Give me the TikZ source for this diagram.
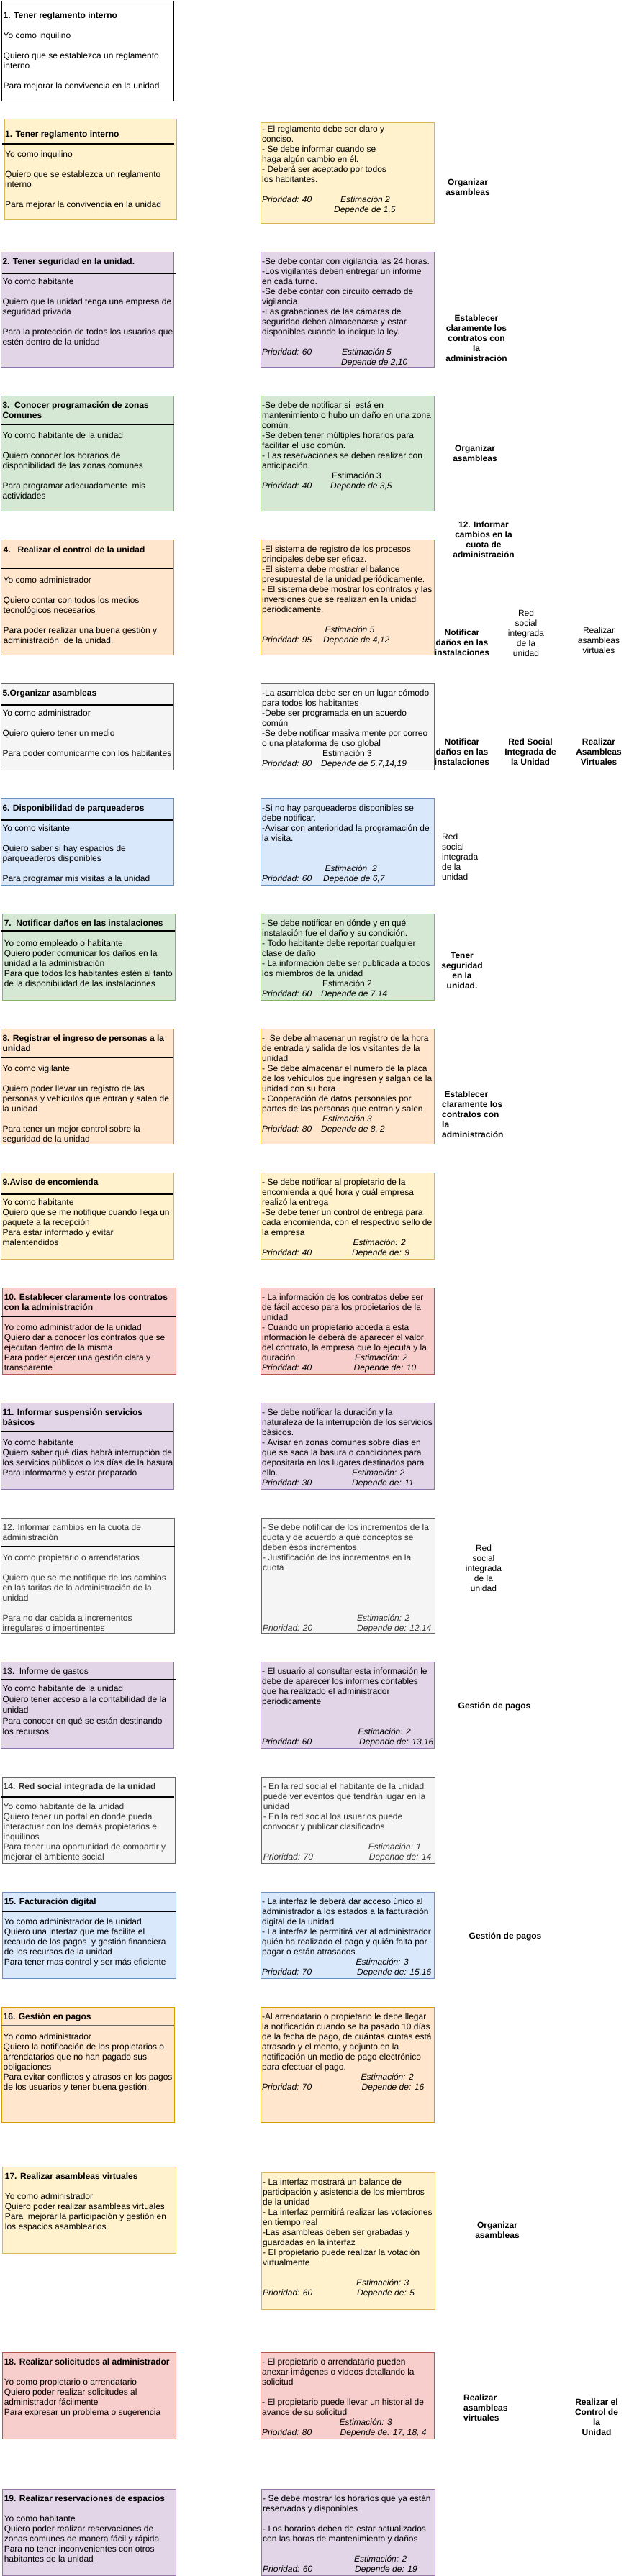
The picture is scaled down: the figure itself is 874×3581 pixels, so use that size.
\documentclass[tikz,border=0pt]{standalone}
\usepackage{fontspec}
\setmainfont{Liberation Sans}
\definecolor{amaF}{HTML}{FFF2CC}\definecolor{amaB}{HTML}{D6B656}
\definecolor{morF}{HTML}{E1D5E7}\definecolor{morB}{HTML}{9673A6}
\definecolor{verF}{HTML}{D5E8D4}\definecolor{verB}{HTML}{82B366}
\definecolor{narF}{HTML}{FFE6CC}\definecolor{narB}{HTML}{D79B00}
\definecolor{griF}{HTML}{F5F5F5}\definecolor{griB}{HTML}{666666}
\definecolor{azuF}{HTML}{DAE8FC}\definecolor{azuB}{HTML}{6C8EBF}
\definecolor{rojF}{HTML}{F8CECC}\definecolor{rojB}{HTML}{B85450}
\definecolor{txtgris}{HTML}{333333}
\newcommand\cardfont{\fontsize{12}{14}\selectfont}
\newcommand\putat[2]{\makebox[0pt][l]{\hspace*{#1pt}#2}}
\tikzset{
  card/.style={anchor=north west, draw, line width=1pt, inner sep=0pt, minimum width=240pt},
  ama/.style={fill=amaF, draw=amaB}, mor/.style={fill=morF, draw=morB},
  ver/.style={fill=verF, draw=verB}, nar/.style={fill=narF, draw=narB},
  gri/.style={fill=griF, draw=griB}, azu/.style={fill=azuF, draw=azuB},
  roj/.style={fill=rojF, draw=rojB},
  body/.style={anchor=north west, align=left, inner sep=0pt, font=\cardfont, execute at begin node=\strut},
  tag/.style={anchor=north, align=center, inner sep=0pt, font=\cardfont\bfseries, execute at begin node=\strut},
  tagn/.style={tag, font=\cardfont},
  divline/.style={line width=1.2pt}
}
\begin{document}
\begin{tikzpicture}[x=1pt,y=-1pt]
\useasboundingbox (0,0) rectangle (874,3581);
% ejemplo
\node[card, draw=black, fill=white, line width=1.3pt, minimum width=239pt, minimum height=139pt] (h0) at (2,0.7) {};
\node[body] (h0t) at (4.5,16.5) {\textbf{1. Tener reglamento interno}\\[14pt] Yo como inquilino\\[14pt] Quiero que se establezca un reglamento\\ interno\\[14pt] Para mejorar la convivencia en la unidad};

% historia 1
\node[card, ama, minimum width=239pt, minimum height=140pt] (h1) at (6,165) {};
\draw[divline] (3,200) -- (242,200);
\node[body] (h1t) at (7,181.5) {\textbf{1. Tener reglamento interno}\\[14pt] Yo como inquilino\\[14pt] Quiero que se establezca un reglamento\\ interno\\[14pt] Para mejorar la convivencia en la unidad};
\node[card, ama, minimum width=241pt, minimum height=140pt] (c1) at (362,170) {};
\node[body] (c1t) at (364,174.5) {- El reglamento debe ser claro y\\ conciso.\\ - Se debe informar cuando se\\ haga algún cambio en él.\\ - Deberá ser aceptado por todos\\ los habitantes.\\[14pt] \putat{0}{\textit{Prioridad: 40}}\putat{109}{\textit{Estimación 2}}\\ \putat{100}{\textit{Depende de 1,5}}};
\node[tag] (g1) at (650,248.5) {Organizar\\ asambleas};

% historia 2
\node[card, mor, minimum height=160pt] (h2) at (1,350) {};
\draw[divline] (3,380) -- (245,380);
\node[body] (h2t) at (3.3,358.5) {\textbf{2. Tener seguridad en la unidad.}\\[14pt] Yo como habitante\\[14pt] Quiero que la unidad tenga una empresa de\\ seguridad privada\\[14pt] Para la protección de todos los usuarios que\\ estén dentro de la unidad};
\node[card, mor, minimum width=241pt, minimum height=160pt] (c2) at (362,350) {};
\node[body] (c2t) at (364,358.5) {-Se debe contar con vigilancia las 24 horas.\\ -Los vigilantes deben entregar un informe\\ en cada turno.\\ -Se debe contar con circuito cerrado de\\ vigilancia.\\ -Las grabaciones de las cámaras de\\ seguridad deben almacenarse y estar\\ disponibles cuando lo indique la ley.\\[14pt] \putat{0}{\textit{Prioridad: 60}}\putat{111}{\textit{Estimación 5}}\\ \putat{110}{\textit{Depende de 2,10}}};
\node[tag] (g2) at (662,437.5) {Establecer\\ claramente los\\ contratos con\\ la\\ administración};

% historia 3
\node[card, ver, minimum height=160pt] (h3) at (1,550) {};
\draw[divline] (1,590) -- (242,590);
\node[body] (h3t) at (3.3,558.5) {\textbf{3.\ \ Conocer programación de zonas}\\ \textbf{Comunes}\\[14pt] Yo como habitante de la unidad\\[14pt] Quiero conocer los horarios de\\ disponibilidad de las zonas comunes\\[14pt] Para programar adecuadamente\ \ mis\\ actividades};
\node[card, ver, minimum width=241pt, minimum height=160pt] (c3) at (362,550) {};
\node[body] (c3t) at (364,558.5) {-Se debe de notificar si\ \ está en\\ mantenimiento o hubo un daño en una zona\\ común.\\ -Se deben tener múltiples horarios para\\ facilitar el uso común.\\ - Las reservaciones se deben realizar con\\ anticipación.\\ \putat{97}{Estimación 3}\\ \putat{0}{\textit{Prioridad: 40}}\putat{95}{\textit{Depende de 3,5}}};
\node[tag] (g3) at (660,618.5) {Organizar\\ asambleas};
\node[tag] (g3b) at (672,724.5) {12. Informar\\ cambios en la\\ cuota de\\ administración};

% historia 4
\node[card, nar, minimum height=160pt] (h4) at (1,750) {};
\draw[divline] (1,790) -- (241,790);
\node[body] (h4t) at (4.5,759.5) {\textbf{4.\ \ \ Realizar el control de la unidad}\\[28pt] Yo como administrador\\[14pt] Quiero contar con todos los medios\\ tecnológicos necesarios\\[14pt] Para poder realizar una buena gestión y\\ administración\ \ de la unidad.};
\node[card, nar, minimum width=241pt, minimum height=160pt] (c4) at (362,750) {};
\node[body] (c4t) at (364,758.5) {-El sistema de registro de los procesos\\ principales debe ser eficaz.\\ -El sistema debe mostrar el balance\\ presupuestal de la unidad periódicamente.\\ - El sistema debe mostrar los contratos y las\\ inversiones que se realizan en la unidad\\ periódicamente.\\[14pt] \putat{87.5}{\textit{Estimación 5}}\\ \putat{0}{\textit{Prioridad: 95}}\putat{85}{\textit{Depende de 4,12}}};
\node[tag] (g4) at (642,874.5) {Notificar\\ daños en las\\ instalaciones};
\node[tagn] (g4b) at (731,847.5) {Red\\ social\\ integrada\\ de la\\ unidad};
\node[tagn] (g4c) at (832,871.5) {Realizar\\ asambleas\\ virtuales};

% historia 5
\node[card, gri, minimum height=120pt] (h5) at (1,950) {};
\draw[divline] (1,980) -- (241,980);
\node[body] (h5t) at (3.3,958.5) {\textbf{5.Organizar asambleas}\\[14pt] Yo como administrador\\[14pt] Quiero quiero tener un medio\\[14pt] Para poder comunicarme con los habitantes};
\node[card, gri, minimum width=241pt, minimum height=120pt] (c5) at (362,950) {};
\node[body] (c5t) at (364,958.5) {-La asamblea debe ser en un lugar cómodo\\ para todos los habitantes\\ -Debe ser programada en un acuerdo\\ común\\ -Se debe notificar masiva mente por correo\\ o una plataforma de uso global\\ \putat{84}{Estimación 3}\\ \putat{0}{\textit{Prioridad: 80}}\putat{82}{\textit{Depende de 5,7,14,19}}};
\node[tag] (g5) at (642,1026.5) {Notificar\\ daños en las\\ instalaciones};
\node[tag] (g5b) at (737,1026.5) {Red Social\\ Integrada de\\ la Unidad};
\node[tag] (g5c) at (832,1026.5) {Realizar\\ Asambleas\\ Virtuales};

% historia 6
\node[card, azu, minimum height=120pt] (h6) at (1,1110) {};
\draw[divline] (1,1140) -- (241,1140);
\node[body] (h6t) at (3.3,1118.5) {\textbf{6. Disponibilidad de parqueaderos}\\[14pt] Yo como visitante\\[14pt] Quiero saber si hay espacios de\\ parqueaderos disponibles\\[14pt] Para programar mis visitas a la unidad};
\node[card, azu, minimum width=241pt, minimum height=120pt] (c6) at (362,1110) {};
\node[body] (c6t) at (364,1118.5) {-Si no hay parqueaderos disponibles se\\ debe notificar.\\ -Avisar con anterioridad la programación de\\ la visita.\\[28pt] \putat{87.5}{\textit{Estimación\ \ 2}}\\ \putat{0}{\textit{Prioridad: 60}}\putat{85}{\textit{Depende de 6,7}}};
\node[tagn, anchor=north west, align=left] (g6) at (614,1158.5) {Red\\ social\\ integrada\\ de la\\ unidad};

% historia 7
\node[card, ver, minimum height=120pt] (h7) at (3,1270) {};
\draw[divline] (1,1294) -- (243,1294);
\node[body] (h7t) at (5.6,1278.5) {\textbf{7.\ \ Notificar daños en las instalaciones}\\[14pt] Yo como empleado o habitante\\ Quiero poder comunicar los daños en la\\ unidad a la administración\\ Para que todos los habitantes estén al tanto\\ de la disponibilidad de las instalaciones};
\node[card, ver, minimum width=241pt, minimum height=120pt] (c7) at (362,1270) {};
\node[body] (c7t) at (364,1278.5) {- Se debe notificar en dónde y en qué\\ instalación fue el daño y su condición.\\ - Todo habitante debe reportar cualquier\\ clase de daño\\ - La información debe ser publicada a todos\\ los miembros de la unidad\\ \putat{84}{Estimación 2}\\ \putat{0}{\textit{Prioridad: 60}}\putat{82}{\textit{Depende de 7,14}}};
\node[tag] (g7) at (642,1324.5) {Tener\\ seguridad\\ en la\\ unidad.};

% historia 8
\node[card, nar, minimum height=160pt] (h8) at (1,1430) {};
\draw[divline] (1,1470) -- (241,1470);
\node[body] (h8t) at (3.3,1438.5) {\textbf{8. Registrar el ingreso de personas a la}\\ \textbf{unidad}\\[14pt] Yo como vigilante\\[14pt] Quiero poder llevar un registro de las\\ personas y vehículos que entran y salen de\\ la unidad\\[14pt] Para tener un mejor control sobre la\\ seguridad de la unidad};
\node[card, nar, minimum width=241pt, minimum height=160pt] (c8) at (362,1430) {};
\node[body] (c8t) at (364,1438.5) {-\ \ Se debe almacenar un registro de la hora\\ de entrada y salida de los visitantes de la\\ unidad\\ - Se debe almacenar el numero de la placa\\ de los vehículos que ingresen y salgan de la\\ unidad con su hora\\ - Cooperación de datos personales por\\ partes de las personas que entran y salen\\ \putat{84}{\textit{Estimación 3}}\\ \putat{0}{\textit{Prioridad: 80}}\putat{82}{\textit{Depende de 8, 2}}};
\node[tag, anchor=north west, align=left] (g8) at (614,1516.5) {\ Establecer\\ claramente los\\ contratos con\\ la\\ administración};

% historia 9
\node[card, ama, minimum height=120pt] (h9) at (1,1630) {};
\draw[divline] (1,1660) -- (241,1660);
\node[body] (h9t) at (3.3,1638.5) {\textbf{9.Aviso de encomienda}\\[14pt] Yo como habitante\\ Quiero que se me notifique cuando llega un\\ paquete a la recepción\\ Para estar informado y evitar\\ malentendidos};
\node[card, ama, minimum width=241pt, minimum height=120pt] (c9) at (362,1630) {};
\node[body] (c9t) at (364,1638.5) {- Se debe notificar al propietario de la\\ encomienda a qué hora y cuál empresa\\ realizó la entrega\\ -Se debe tener un control de entrega para\\ cada encomienda, con el respectivo sello de\\ la empresa\\ \putat{126.5}{\textit{Estimación: 2}}\\ \putat{0}{\textit{Prioridad: 40}}\putat{125}{\textit{Depende de: 9}}};

% historia 10
\node[card, roj, minimum width=241pt, minimum height=120pt] (h10) at (3,1790) {};
\draw[divline] (1,1830) -- (245,1830);
\node[body] (h10t) at (5.6,1798.5) {\textbf{10. Establecer claramente los contratos}\\ \textbf{con la administración}\\[14pt] Yo como administrador de la unidad\\ Quiero dar a conocer los contratos que se\\ ejecutan dentro de la misma\\ Para poder ejercer una gestión clara y\\ transparente};
\node[card, roj, minimum width=241pt, minimum height=120pt] (c10) at (362,1790) {};
\node[body] (c10t) at (364,1798.5) {- La información de los contratos debe ser\\ de fácil acceso para los propietarios de la\\ unidad\\ - Cuando un propietario acceda a esta\\ información le deberá de aparecer el valor\\ del contrato, la empresa que lo ejecuta y la\\ \putat{0}{duración}\putat{129}{\textit{Estimación: 2}}\\ \putat{0}{\textit{Prioridad: 40}}\putat{127.5}{\textit{Depende de: 10}}};

% historia 11
\node[card, mor, minimum height=120pt] (h11) at (1,1950) {};
\draw[divline] (1,1990) -- (241,1990);
\node[body] (h11t) at (3.3,1958.5) {\textbf{11. Informar suspensión servicios}\\ \textbf{básicos}\\[14pt] Yo como habitante\\ Quiero saber qué días habrá interrupción de\\ los servicios públicos o los días de la basura\\ Para informarme y estar preparado};
\node[card, mor, minimum width=241pt, minimum height=120pt] (c11) at (362,1950) {};
\node[body] (c11t) at (364,1958.5) {- Se debe notificar la duración y la\\ naturaleza de la interrupción de los servicios\\ básicos.\\ - Avisar en zonas comunes sobre días en\\ que se saca la basura o condiciones para\\ depositarla en los lugares destinados para\\ \putat{0}{ello.}\putat{125}{\textit{Estimación: 2}}\\ \putat{0}{\textit{Prioridad: 30}}\putat{125}{\textit{Depende de: 11}}};

% historia 12
\node[card, gri, minimum width=241pt, minimum height=160pt] (h12) at (1,2110) {};
\draw[divline] (1,2150) -- (243,2150);
\node[body, text=txtgris] (h12t) at (3.3,2118.5) {12. Informar cambios en la cuota de\\ administración\\[14pt] Yo como propietario o arrendatarios\\[14pt] Quiero que se me notifique de los cambios\\ en las tarifas de la administración de la\\ unidad\\[14pt] Para no dar cabida a incrementos\\ irregulares o impertinentes};
\node[card, gri, minimum width=241pt, minimum height=160pt] (c12) at (363,2110) {};
\node[body, text=txtgris] (c12t) at (365,2118.5) {- Se debe notificar de los incrementos de la\\ cuota y de acuerdo a qué conceptos se\\ deben ésos incrementos.\\ - Justificación de los incrementos en la\\ cuota\\[56pt] \putat{131}{\textit{Estimación: 2}}\\ \putat{0}{\textit{Prioridad: 20}}\putat{131}{\textit{Depende de: 12,14}}};
\node[tagn] (g12) at (672,2147.5) {Red\\ social\\ integrada\\ de la\\ unidad};

% historia 13
\node[card, mor, minimum height=120pt] (h13) at (1,2310) {};
\draw[divline] (1,2335) -- (244,2335);
\node[body] (h13t) at (3.3,2318.5) {13.\ \ Informe de gastos\\[10pt] Yo como habitante de la unidad\\[1pt] Quiero tener acceso a la contabilidad de la\\[1pt] unidad\\[1pt] Para conocer en qué se están destinando\\[1pt] los recursos};
\node[card, mor, minimum width=241pt, minimum height=120pt] (c13) at (362,2310) {};
\node[body] (c13t) at (364,2318.5) {- El usuario al consultar esta información le\\ debe de aparecer los informes contables\\ que ha realizado el administrador\\ periódicamente\\[28pt] \putat{133.5}{\textit{Estimación: 2}}\\ \putat{0}{\textit{Prioridad: 60}}\putat{135}{\textit{Depende de: 13,16}}};
\node[tag] (g13) at (687,2365.5) {Gestión de pagos};

% historia 14
\node[card, gri, minimum height=120pt] (h14) at (3,2470) {};
\draw[divline] (1,2498) -- (242,2498);
\node[body, text=txtgris] (h14t) at (4.5,2478.5) {\textbf{14. Red social integrada de la unidad}\\[14pt] Yo como habitante de la unidad\\ Quiero tener un portal en donde pueda\\ interactuar con los demás propietarios e\\ inquilinos\\ Para tener una oportunidad de compartir y\\ mejorar el ambiente social};
\node[card, gri, minimum width=241pt, minimum height=120pt] (c14) at (363,2470) {};
\node[body, text=txtgris] (c14t) at (365.7,2478.5) {- En la red social el habitante de la unidad\\ puede ver eventos que tendrán lugar en la\\ unidad\\ - En la red social los usuarios puede\\ convocar y publicar clasificados\\[14pt] \putat{146}{\textit{Estimación: 1}}\\ \putat{0}{\textit{Prioridad: 70}}\putat{147}{\textit{Depende de: 14}}};

% historia 15
\node[card, azu, minimum width=241pt, minimum height=120pt] (h15) at (3,2630) {};
\draw[divline] (3,2657) -- (245,2657);
\node[body] (h15t) at (5.6,2638.5) {\textbf{15. Facturación digital}\\[14pt] Yo como administrador de la unidad\\ Quiero una interfaz que me facilite el\\ recaudo de los pagos\ \ y gestión financiera\\ de los recursos de la unidad\\ Para tener mas control y ser más eficiente};
\node[card, azu, minimum width=241pt, minimum height=120pt] (c15) at (362,2630) {};
\node[body] (c15t) at (364,2638.5) {- La interfaz le deberá dar acceso único al\\ administrador a los estados a la facturación\\ digital de la unidad\\ - La interfaz le permitirá ver al administrador\\ quién ha realizado el pago y quién falta por\\ pagar o están atrasados\\ \putat{130.5}{\textit{Estimación: 3}}\\ \putat{0}{\textit{Prioridad: 70}}\putat{132}{\textit{Depende de: 15,16}}};
\node[tag] (g15) at (702,2685.5) {Gestión de pagos};

% historia 16
\node[card, nar, minimum height=160pt] (h16) at (2,2790) {};
\draw[divline, draw=griB] (1,2816) -- (242,2816);
\node[body] (h16t) at (4.5,2798.5) {\textbf{16. Gestión en pagos}\\[14pt] Yo como administrador\\ Quiero la notificación de los propietarios o\\ arrendatarios que no han pagado sus\\ obligaciones\\ Para evitar conflictos y atrasos en los pagos\\ de los usuarios y tener buena gestión.};
\node[card, nar, minimum width=241pt, minimum height=160pt] (c16) at (362,2790) {};
\node[body] (c16t) at (364,2798.5) {-Al arrendatario o propietario le debe llegar\\ la notificación cuando se ha pasado 10 días\\ de la fecha de pago, de cuántas cuotas está\\ atrasado y el monto, y adjunto en la\\ notificación un medio de pago electrónico\\ para efectuar el pago.\\ \putat{137.5}{\textit{Estimación: 2}}\\ \putat{0}{\textit{Prioridad: 70}}\putat{138.5}{\textit{Depende de: 16}}};

% historia 17
\node[card, ama, minimum width=241pt, minimum height=120pt] (h17) at (3,3012) {};
\node[body] (h17t) at (6.7,3020.5) {\textbf{17. Realizar asambleas virtuales}\\[14pt] Yo como administrador\\ Quiero poder realizar asambleas virtuales\\ Para\ \ mejorar la participación y gestión en\\ los espacios asamblearios};
\node[card, ama, minimum width=241pt, minimum height=190pt] (c17) at (363,3020) {};
\node[body] (c17t) at (365,3028.5) {- La interfaz mostrará un balance de\\ participación y asistencia de los miembros\\ de la unidad\\ - La interfaz permitirá realizar las votaciones\\ en tiempo real\\ -Las asambleas deben ser grabadas y\\ guardadas en la interfaz\\ - El propietario puede realizar la votación\\ virtualmente\\[14pt] \putat{130}{\textit{Estimación: 3}}\\ \putat{0}{\textit{Prioridad: 60}}\putat{131}{\textit{Depende de: 5}}};
\node[tag] (g17) at (691,3088.5) {Organizar\\ asambleas};

% historia 18
\node[card, roj, minimum width=241pt, minimum height=120pt] (h18) at (3,3270) {};
\node[body] (h18t) at (5.6,3278.5) {\textbf{18. Realizar solicitudes al administrador}\\[14pt] Yo como propietario o arrendatario\\ Quiero poder realizar solicitudes al\\ administrador fácilmente\\ Para expresar un problema o sugerencia};
\node[card, roj, minimum width=241pt, minimum height=120pt] (c18) at (362,3270) {};
\node[body] (c18t) at (364,3278.5) {- El propietario o arrendatario pueden\\ anexar imágenes o videos detallando la\\ solicitud\\[14pt] - El propietario puede llevar un historial de\\ avance de su solicitud\\ \putat{107.5}{\textit{Estimación: 3}}\\ \putat{0}{\textit{Prioridad: 80}}\putat{108.5}{\textit{Depende de: 17, 18, 4}}};
\node[tag, anchor=north west, align=left] (g18) at (644,3328.5) {Realizar\\ asambleas\\ virtuales};
\node[tag] (g18b) at (829,3334.5) {Realizar el\\ Control de\\ la\\ Unidad};

% historia 19
\node[card, mor, minimum width=241pt, minimum height=120pt] (h19) at (3,3460) {};
\node[body] (h19t) at (5.6,3468.5) {\textbf{19. Realizar reservaciones de espacios}\\[14pt] Yo como habitante\\ Quiero poder realizar reservaciones de\\ zonas comunes de manera fácil y rápida\\ Para no tener inconvenientes con otros\\ habitantes de la unidad};
\node[card, mor, minimum width=241pt, minimum height=120pt] (c19) at (363,3460) {};
\node[body] (c19t) at (365,3468.5) {- Se debe mostrar los horarios que ya están\\ reservados y disponibles\\[14pt] - Los horarios deben de estar actualizados\\ con las horas de mantenimiento y daños\\[14pt] \putat{127}{\textit{Estimación: 2}}\\ \putat{0}{\textit{Prioridad: 60}}\putat{128}{\textit{Depende de: 19}}};
\end{tikzpicture}
\end{document}
